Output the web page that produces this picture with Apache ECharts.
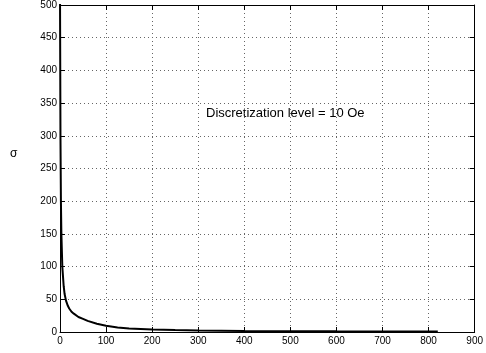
<!DOCTYPE html>
<html>
<head>
<meta charset="utf-8">
<script src="https://cdn.jsdelivr.net/npm/echarts@6/dist/echarts.min.js"></script>
<style>
  html, body { margin: 0; padding: 0; background: #fff; }
  #chart { width: 486px; height: 353px; }
</style>
</head>
<body>
<div id="chart"></div>
<script>
// σ against field, discretization level 10 Oe
const fieldX = [0, 1, 2, 3, 5, 8, 10, 13, 17, 20, 25, 30, 40, 50, 60, 80, 100, 125, 150, 200, 250, 300, 400, 500, 600, 700, 820];
const sigma  = [520, 300, 200, 150, 100, 70, 58, 48, 40, 36, 31, 28, 23, 20, 17, 12.5, 9.5, 7, 5.5, 3.8, 3, 2.4, 1.7, 1.3, 1, 0.8, 0.6];
const note = 'Discretization level = 10 Oe';
const yTitle = 'σ';

const FONT = 'Liberation Sans, Arial, Helvetica, sans-serif';
const chart = echarts.init(document.getElementById('chart'));

const dotted = { show: true, lineStyle: { color: '#666', width: 1, type: [1, 3] } };
const frame = { show: true, onZero: false, lineStyle: { color: '#000', width: 1 } };
const ticks = { show: true, inside: true, length: 5, lineStyle: { color: '#000' } };

chart.setOption({
  animation: false,
  grid: { left: 60, right: 7, top: 2, bottom: 21, containLabel: false },
  xAxis: [
    {
      type: 'value', min: 0, max: 900, interval: 100, position: 'bottom',
      axisLine: frame, axisTick: ticks, splitLine: dotted,
      axisLabel: { color: '#000', fontFamily: FONT, fontSize: 10, margin: 4 }
    },
    {
      type: 'value', min: 0, max: 900, interval: 100, position: 'top',
      axisLine: frame, axisTick: ticks, splitLine: { show: false }, axisLabel: { show: false }
    }
  ],
  yAxis: [
    {
      type: 'value', min: 0, max: 500, interval: 50, position: 'left',
      axisLine: frame, axisTick: ticks, splitLine: dotted,
      axisLabel: { color: '#000', fontFamily: FONT, fontSize: 10, margin: 3 }
    },
    {
      type: 'value', min: 0, max: 500, interval: 50, position: 'right',
      axisLine: frame, axisTick: ticks, splitLine: { show: false }, axisLabel: { show: false }
    }
  ],
  graphic: [
    { type: 'text', left: 10, top: 148, style: { text: yTitle, fill: '#000', font: '12px ' + FONT } },
    { type: 'text', left: 206, top: 107, style: { text: note, fill: '#000', font: '13px ' + FONT } }
  ],
  series: [{
    type: 'line', xAxisIndex: 0, yAxisIndex: 0,
    data: fieldX.map((x, i) => [x, sigma[i]]),
    showSymbol: false, smooth: false, clip: true,
    lineStyle: { color: '#000', width: 2 }
  }]
});
</script>
</body>
</html>
